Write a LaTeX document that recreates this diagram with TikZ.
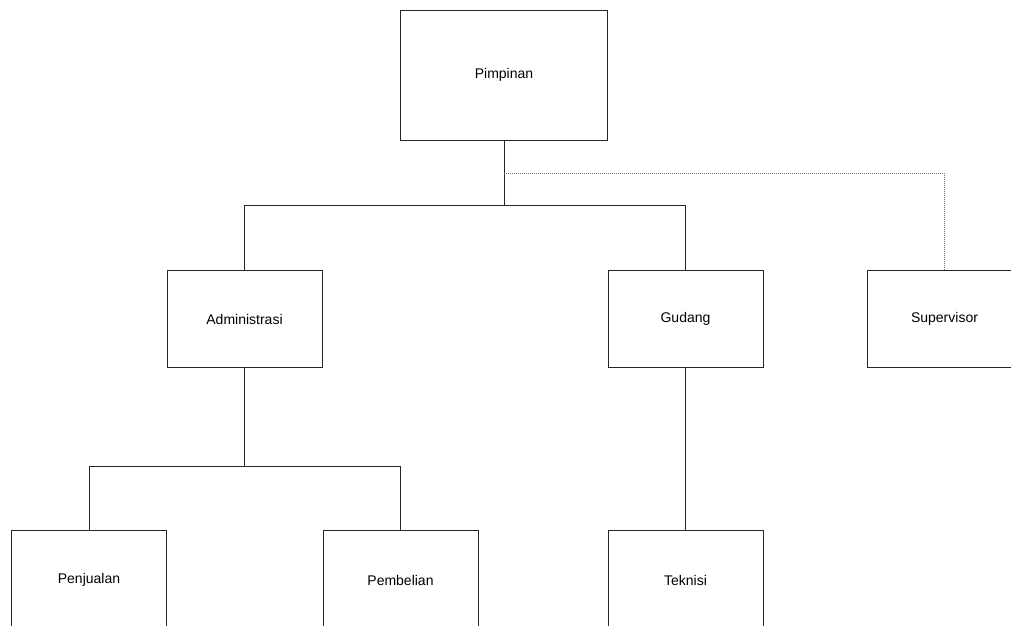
\documentclass[tikz,border=0pt]{standalone}
\usepackage{fontspec}
\setmainfont{Liberation Sans}
\begin{document}
\begin{tikzpicture}[x=1pt,y=-1pt,
  unit/.style={draw=black!85,line width=1pt,rectangle,minimum width=155pt,inner sep=0pt,font=\fontsize{14}{16}\selectfont},
  link/.style={draw=black!85,line width=1pt},
  dotlink/.style={draw=black!55,line width=1pt,dash pattern=on 1pt off 1pt}]
\useasboundingbox (0,0) rectangle (1011,625);
\clip (0,0) rectangle (1011,625);
\node[unit,minimum width=207pt,minimum height=130pt] (pim) at (504,75) {Pimpinan};
\node[unit,minimum height=97pt] (adm) at (244.5,319) {Administrasi};
\node[unit,minimum height=97pt] (gud) at (685.5,319) {Gudang};
\node[unit,minimum height=97pt] (sup) at (944.5,319) {Supervisor};
\node[unit,minimum height=100pt] (pen) at (89,580) {Penjualan};
\node[unit,minimum height=100pt] (peb) at (400.5,580) {Pembelian};
\node[unit,minimum height=100pt] (tek) at (685.5,580) {Teknisi};
\coordinate (j1) at (504,205);
\coordinate (j2) at (244.5,466);
\draw[link] (pim.south) -- (j1);
\draw[link] (adm.north) -- (adm.north |- j1) -- (gud.north |- j1) -- (gud.north);
\draw[dotlink] (pim.south |- 0,173) -| (sup.north);
\draw[link] (adm.south) -- (j2);
\draw[link] (pen.north) -- (pen.north |- j2) -- (peb.north |- j2) -- (peb.north);
\draw[link] (gud.south) -- (tek.north);
\end{tikzpicture}
\end{document}
